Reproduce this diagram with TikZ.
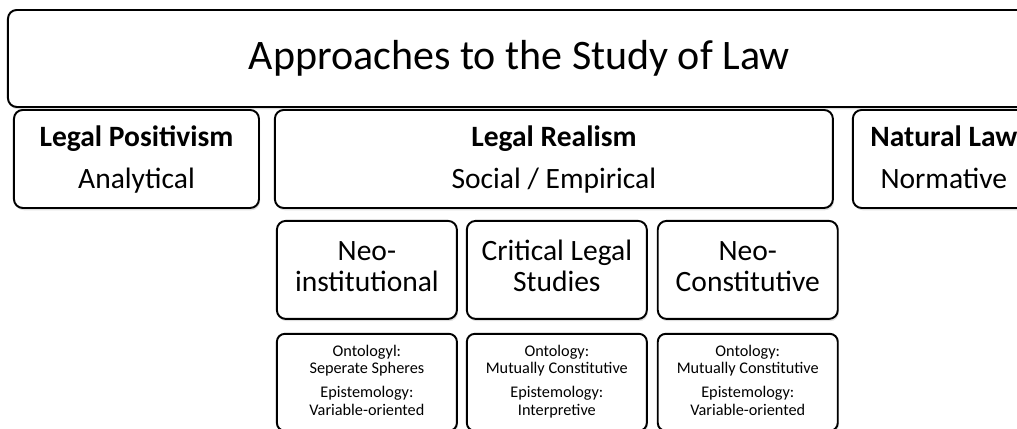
\documentclass[tikz,border=0pt]{standalone}
\usepackage{fontspec}
\setmainfont{Carlito}
\usepackage{tikz}
\usetikzlibrary{positioning,shadows}

\begin{document}
\begin{tikzpicture}[box/.style={draw,fill=white,rounded corners=5pt,line width=1.1pt,align=center,inner sep=0pt,drop shadow={opacity=0.25,shadow xshift=0.6pt,shadow yshift=-1.3pt}},
	topbox/.style={box,minimum width=20.46cm,minimum height=1.94cm,font=\fontsize{23.9}{28}\selectfont},
	headbox/.style={box,minimum height=1.96cm,font=\fontsize{16.8}{23.8}\selectfont},
	subbox/.style={box,minimum width=3.6cm,minimum height=1.96cm,font=\fontsize{16.8}{17.2}\selectfont},
	infobox/.style={box,rounded corners=4.5pt,minimum width=3.6cm,minimum height=1.94cm,font=\fontsize{9.25}{10.2}\selectfont}]
			\useasboundingbox (0,0) rectangle (20.34,-8.56);
			\clip (0,0) rectangle (20.34,-8.56);
			\node[topbox,anchor=north west] (study) at (0.14,-0.18) {Approaches to the Study of Law};
			\node[headbox,minimum width=4.9cm,anchor=north west] (pos) at (0.26,-2.18) {\strut\textbf{Legal Positivism}\\Analytical\strut};
			\node[headbox,minimum width=11.16cm] (real) [right=0.28cm of pos] {\strut\textbf{Legal Realism}\\Social / Empirical\strut};
			\node[headbox,minimum width=3.64cm] (nat) [right=0.36cm of real] {\strut\textbf{Natural Law}\\Normative\strut};
			\node[subbox] (neoinst) [below right=0.22cm and 0.04cm of real.south west] {\strut Neo-\\institutional\strut};
			\node[subbox] (cls) [right=0.16cm of neoinst] {\strut Critical Legal\\Studies\strut};
			\node[subbox] (neocon) [right=0.18cm of cls] {\strut Neo-\\Constitutive\strut};
			\node[infobox] (instinfo) [below=0.26cm of neoinst] {\strut Ontologyl:\\Seperate Spheres\\[3.4pt]Epistemology:\\Variable-oriented\strut};
			\node[infobox] (clsinfo) [below=0.26cm of cls] {\strut Ontology:\\Mutually Constitutive\\[3.4pt]Epistemology:\\Interpretive\strut};
			\node[infobox] (coninfo) [below=0.26cm of neocon] {\strut Ontology:\\Mutually Constitutive\\[3.4pt]Epistemology:\\Variable-oriented\strut};
			\end{tikzpicture}
\end{document}
